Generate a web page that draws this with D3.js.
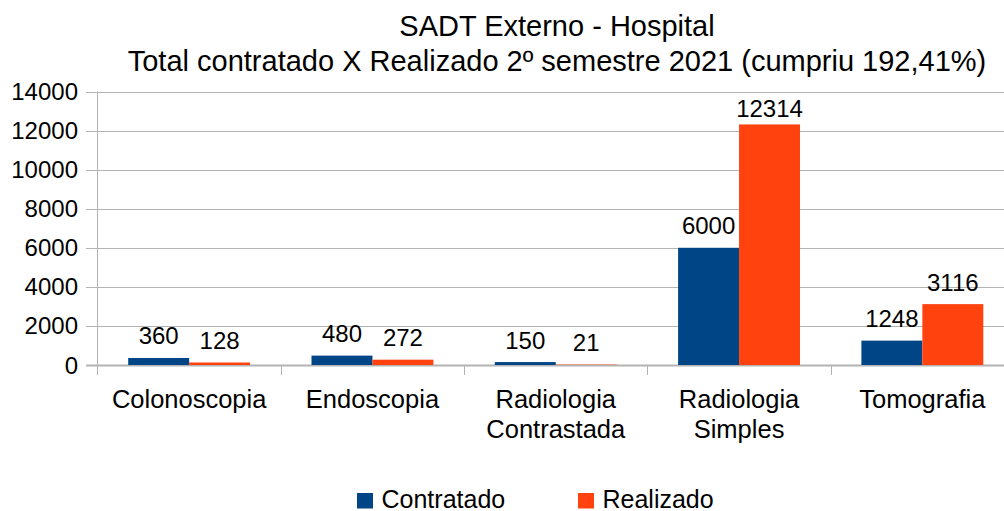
<!DOCTYPE html>
<html>
<head>
<meta charset="utf-8">
<script src="https://cdn.jsdelivr.net/npm/d3@7"></script>
<style>
  body { margin: 0; background: #fff; }
  svg { display: block; font-family: "Liberation Sans", Arial, sans-serif; }
</style>
</head>
<body>
<svg id="chart" width="1004" height="511"></svg>
<script>
/* ── Data ─────────────────────────────────────────────── */
const categories = [
  ["Colonoscopia"],
  ["Endoscopia"],
  ["Radiologia", "Contrastada"],
  ["Radiologia", "Simples"],
  ["Tomografia"]
];
const seriesNames = ["Contratado", "Realizado"];
const contratado  = [360, 480, 150, 6000, 1248];
const realizado   = [128, 272, 21, 12314, 3116];
const yTicks      = [0, 2000, 4000, 6000, 8000, 10000, 12000, 14000];
const titleLines  = [
  "SADT Externo - Hospital",
  "Total contratado X Realizado 2º semestre 2021 (cumpriu 192,41%)"
];

const COLORS = ["#004586", "#ff420e"];
const GRID   = "#b3b3b3";

(function () {
  /* ── Layout ───────────────────────────────────────────── */
  const svg = d3.select("#chart");
  const pLeft = 97.5, pRight = 1014, pTop = 91.5, pBottom = 365;
  const keys = categories.map(c => c.join(" "));

  const x0 = d3.scaleBand().domain(keys).range([pLeft, pRight])
    .paddingInner(0.335).paddingOuter(0.1675);
  const x1 = d3.scaleBand().domain(seriesNames).range([0, x0.bandwidth()]);
  const y  = d3.scaleLinear().domain([0, 14000]).range([pBottom, pTop]);

  /* gridlines + y labels */
  const gridG = svg.append("g");
  yTicks.forEach(v => {
    gridG.append("line")
      .attr("x1", 86).attr("x2", pRight)
      .attr("y1", Math.round(y(v)) + 0.5).attr("y2", Math.round(y(v)) + 0.5)
      .attr("stroke", GRID).attr("stroke-width", v === 0 ? 2 : 1);
    gridG.append("text")
      .attr("x", 78).attr("y", y(v) + 8.5)
      .attr("text-anchor", "end")
      .attr("font-size", 24)
      .text(v);
  });

  /* y axis line */
  svg.append("line")
    .attr("x1", pLeft).attr("x2", pLeft)
    .attr("y1", pTop).attr("y2", pBottom + 10)
    .attr("stroke", GRID).attr("stroke-width", 1);

  /* category boundary ticks */
  const step = x0.step();
  d3.range(1, keys.length + 1).forEach(i => {
    const xx = Math.round(pLeft + i * step) + 0.5;
    svg.append("line")
      .attr("x1", xx).attr("x2", xx)
      .attr("y1", pBottom).attr("y2", pBottom + 10)
      .attr("stroke", GRID);
  });

  /* bars + value labels (labels kept below the plot's top edge) */
  const rows = keys.map((k, i) => ({ key: k, vals: [contratado[i], realizado[i]] }));
  const barG = svg.append("g");
  rows.forEach(r => {
    r.vals.forEach((v, j) => {
      const bx = x0(r.key) + x1(seriesNames[j]);
      barG.append("rect")
        .attr("x", bx).attr("width", x1.bandwidth())
        .attr("y", y(v)).attr("height", pBottom - y(v))
        .attr("fill", COLORS[j]);
      barG.append("text")
        .attr("x", bx + x1.bandwidth() / 2)
        .attr("y", Math.max(y(v) - 13.5, pTop + 25.5))
        .attr("text-anchor", "middle")
        .attr("font-size", 24)
        .text(v);
    });
  });

  /* category labels */
  categories.forEach((lines, i) => {
    const cx = x0(keys[i]) + x0.bandwidth() / 2;
    lines.forEach((ln, k) => {
      svg.append("text")
        .attr("x", cx).attr("y", 408 + k * 30)
        .attr("text-anchor", "middle")
        .attr("font-size", 25.5)
        .text(ln);
    });
  });

  /* title */
  titleLines.forEach((t, i) => {
    svg.append("text")
      .attr("x", 557).attr("y", 36 + i * 35)
      .attr("text-anchor", "middle")
      .attr("font-size", 29)
      .text(t);
  });

  /* legend */
  const legendX = [357, 578];
  seriesNames.forEach((s, i) => {
    svg.append("rect")
      .attr("x", legendX[i]).attr("y", 493)
      .attr("width", 16).attr("height", 15.5)
      .attr("fill", COLORS[i]);
    svg.append("text")
      .attr("x", legendX[i] + 24.5).attr("y", 508)
      .attr("font-size", 25)
      .text(s);
  });
})();
</script>
</body>
</html>
